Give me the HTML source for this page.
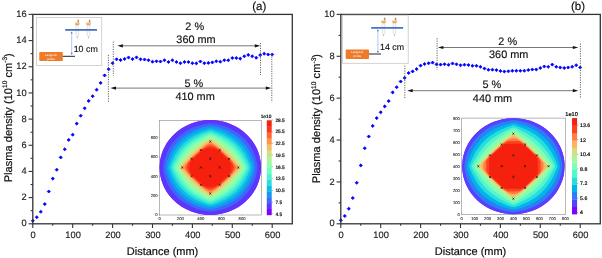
<!DOCTYPE html><html><head><meta charset="utf-8"><style>html,body{margin:0;padding:0;background:#fff;}svg{display:block;will-change:transform;text-rendering:geometricPrecision;filter:blur(0.3px);}</style></head><body>
<svg width="602" height="258" viewBox="0 0 602 258" font-family='"Liberation Sans", sans-serif'>
<rect width="602" height="258" fill="#fff"/>
<rect x="159.5" y="120.4" width="101.90" height="94.60" fill="#fff" stroke="#888" stroke-width="0.6"/>
<ellipse cx="210.3" cy="167.5" rx="50.7" ry="47.4" fill="#8000ff"/>
<path d="M208.95 120.12L218.28 120.70L222.43 121.48L227.81 123.03L236.11 126.71L239.63 128.84L243.57 131.75L248.54 136.40L251.65 140.08L253.93 143.37L256.42 147.83L257.87 151.13L259.53 156.16L260.56 161.40L260.98 166.24L260.36 174.96L259.53 178.84L257.87 183.87L253.93 191.63L251.65 194.92L248.54 198.60L243.57 203.25L239.63 206.16L236.11 208.29L231.34 210.62L227.81 211.97L222.43 213.52L216.83 214.49L211.65 214.88L202.32 214.30L198.17 213.52L192.79 211.97L184.49 208.29L180.97 206.16L177.03 203.25L172.06 198.60L168.95 194.92L166.67 191.63L164.18 187.17L162.73 183.87L161.07 178.84L160.04 173.60L159.62 168.76L160.24 160.04L161.07 156.16L162.73 151.13L166.67 143.37L168.95 140.08L172.06 136.40L177.03 131.75L180.97 128.84L184.49 126.71L189.26 124.38L192.79 123.03L198.17 121.48L203.77 120.51L208.95 120.12Z" fill="#5e35fe" fill-rule="evenodd"/>
<path d="M207.92 123.61L211.44 123.49L216.00 124.10L221.18 125.27L225.95 126.81L230.30 128.66L234.45 130.89L238.18 133.35L241.70 136.17L244.94 139.31L247.77 142.60L250.36 146.28L252.57 150.16L254.39 154.23L255.83 158.49L256.93 163.14L257.43 167.02L257.19 170.31L256.25 174.96L254.90 179.42L253.23 183.49L251.19 187.36L248.79 191.04L243.15 197.50L239.84 200.39L236.31 202.94L232.37 205.29L228.44 207.19L224.29 208.78L219.73 210.11L214.96 211.07L210.82 211.53L207.29 211.32L202.11 210.40L197.55 209.18L193.20 207.62L185.32 203.61L181.59 201.03L178.21 198.21L175.12 195.11L172.39 191.82L169.87 188.14L167.84 184.46L166.13 180.58L164.71 176.32L163.67 171.86L163.17 167.98L163.38 164.88L164.30 160.23L165.56 155.97L167.19 151.90L171.40 144.54L176.79 138.14L183.46 132.62L190.92 128.37L199.00 125.39L207.92 123.61Z" fill="#3c68f9" fill-rule="evenodd"/>
<path d="M210.20 125.93L213.10 126.23L218.07 127.36L226.57 130.36L233.83 134.30L240.25 139.32L245.67 145.31L249.94 152.09L253.14 159.85L254.40 164.50L254.81 167.40L254.49 170.12L253.26 174.77L250.04 182.71L245.82 189.49L240.44 195.50L234.03 200.56L226.78 204.55L218.49 207.52L213.51 208.69L210.40 209.07L207.50 208.77L202.53 207.64L194.03 204.64L186.77 200.70L180.35 195.68L174.93 189.69L170.66 182.91L167.46 175.15L166.20 170.50L165.79 167.60L166.11 164.88L167.34 160.23L170.56 152.29L174.78 145.51L180.16 139.50L186.57 134.44L193.82 130.45L202.11 127.48L207.09 126.31L210.20 125.93Z" fill="#1996f3" fill-rule="evenodd"/>
<path d="M208.75 128.24L211.03 128.14L213.72 128.65L219.11 130.26L223.88 132.11L231.13 135.95L237.56 140.81L242.74 146.29L247.09 152.75L250.62 160.43L252.13 165.08L252.50 167.40L252.18 169.73L250.83 173.99L247.37 181.74L243.19 188.14L238.23 193.56L232.37 198.24L225.74 202.04L217.66 205.22L212.89 206.55L210.40 206.89L207.92 206.60L203.36 205.35L195.07 202.14L188.43 198.38L182.42 193.62L177.41 188.14L173.30 181.88L169.91 174.38L168.47 169.92L168.10 167.60L168.37 165.47L169.64 161.40L173.02 153.64L176.97 147.44L181.80 141.97L187.40 137.34L193.79 133.49L200.87 130.48L208.75 128.24Z" fill="#08bee9" fill-rule="evenodd"/>
<path d="M209.37 130.18L211.23 130.18L213.72 130.80L223.25 134.52L229.89 138.26L235.73 142.79L240.67 148.01L244.72 153.84L248.48 161.40L249.96 165.27L250.37 167.40L250.08 169.34L248.80 172.83L245.02 180.66L240.99 186.59L236.31 191.67L230.92 196.03L224.70 199.76L216.62 203.22L212.68 204.51L210.40 204.88L208.33 204.62L204.61 203.45L196.28 199.96L190.03 196.28L184.45 191.82L179.76 186.78L175.76 180.97L172.03 173.41L170.61 169.62L170.23 167.60L170.52 165.66L171.72 162.36L175.42 154.61L179.31 148.79L184.03 143.57L189.26 139.26L195.27 135.56L202.32 132.39L209.37 130.18Z" fill="#2adddd" fill-rule="evenodd"/>
<path d="M209.16 132.13L210.82 132.04L212.68 132.47L221.47 136.20L228.02 139.98L233.66 144.34L238.36 149.19L242.34 154.61L246.68 162.59L248.00 165.66L248.35 167.40L248.12 168.95L247.20 171.28L242.83 179.61L239.00 185.04L234.45 189.94L229.29 194.14L223.46 197.76L215.17 201.59L212.27 202.66L210.40 202.98L208.75 202.77L206.20 201.90L197.35 197.87L191.54 194.31L186.30 190.08L181.80 185.28L177.89 179.81L173.72 171.96L172.60 169.34L172.25 167.60L172.48 166.05L173.30 163.95L177.54 155.78L181.29 150.35L185.69 145.51L190.50 141.44L195.89 137.93L202.53 134.62L209.16 132.13Z" fill="#4df3ce" fill-rule="evenodd"/>
<path d="M209.78 133.87L211.23 133.93L212.89 134.46L221.22 138.53L227.13 142.21L232.20 146.28L236.52 150.74L240.46 155.94L245.26 164.11L246.41 167.40L246.21 168.76L245.46 170.50L240.73 178.64L236.93 183.77L232.62 188.33L227.81 192.29L222.43 195.79L213.93 200.09L210.40 201.16L208.95 200.97L207.09 200.28L198.59 196.03L192.99 192.45L188.19 188.53L183.92 184.07L180.12 179.03L175.34 170.89L174.19 167.60L174.39 166.24L175.14 164.50L179.73 156.57L183.60 151.32L187.78 146.86L192.40 142.99L197.68 139.50L205.53 135.43L209.78 133.87Z" fill="#6efebe" fill-rule="evenodd"/>
<path d="M209.99 135.61L211.23 135.71L212.89 136.32L220.35 140.43L225.95 144.15L230.65 148.03L234.80 152.29L238.59 157.09L243.54 164.69L244.54 167.40L243.65 170.12L239.04 177.29L235.14 182.32L231.07 186.59L226.57 190.38L221.36 193.95L213.31 198.48L210.40 199.40L207.55 198.60L199.87 194.34L194.44 190.70L189.88 186.92L185.80 182.71L181.97 177.87L177.06 170.31L176.06 167.60L176.84 165.08L181.43 157.91L185.32 152.84L189.47 148.47L193.88 144.73L198.93 141.24L207.09 136.63L209.99 135.61Z" fill="#90feab" fill-rule="evenodd"/>
<path d="M209.78 137.35L211.03 137.39L212.27 137.83L217.34 140.86L223.61 145.12L228.80 149.38L232.86 153.45L236.93 158.33L241.82 165.08L242.72 167.40L241.94 169.73L237.76 175.59L233.62 180.70L229.43 185.04L224.91 188.89L219.73 192.59L212.89 196.85L210.40 197.69L207.92 196.97L201.75 193.18L196.22 189.30L191.54 185.38L187.40 181.17L183.46 176.40L178.78 169.92L177.88 167.60L178.66 165.27L182.63 159.69L186.77 154.53L190.97 150.16L195.07 146.60L199.72 143.18L207.29 138.38L209.78 137.35Z" fill="#b2f396" fill-rule="evenodd"/>
<path d="M209.57 139.07L211.23 139.13L213.51 140.33L221.24 145.89L226.78 150.49L231.34 154.95L236.11 160.35L240.06 165.27L240.95 167.40L240.43 169.15L238.18 172.14L232.58 178.71L227.81 183.56L223.05 187.68L217.30 192.01L212.48 195.31L210.40 196.02L208.47 195.50L204.93 193.18L198.37 188.33L193.12 183.87L188.64 179.38L183.67 173.65L180.41 169.53L179.65 167.60L180.06 166.05L181.80 163.63L187.40 156.98L192.30 151.90L200.90 144.73L207.29 140.20L209.57 139.07Z" fill="#d4dd80" fill-rule="evenodd"/>
<path d="M209.78 140.66L211.44 140.84L213.51 142.08L219.52 146.71L224.86 151.32L230.51 156.72L235.43 161.98L238.52 165.66L239.22 167.40L238.77 168.95L237.13 171.08L231.86 176.90L226.57 182.11L221.11 186.97L215.59 191.39L212.27 193.74L210.40 194.39L208.75 193.97L206.26 192.32L200.25 187.61L194.86 182.88L189.30 177.48L184.31 172.05L181.95 169.15L181.38 167.60L181.73 166.24L183.30 164.11L193.41 153.48L203.15 145.06L207.71 141.65L209.78 140.66Z" fill="#f6be68" fill-rule="evenodd"/>
<path d="M210.20 142.20L211.85 142.62L214.76 144.50L219.52 148.21L223.89 152.09L233.31 161.40L236.70 165.47L237.53 167.40L236.95 169.15L234.83 171.86L230.79 176.32L225.95 180.99L216.21 189.43L212.48 192.04L210.40 192.80L208.75 192.38L205.84 190.50L201.08 186.79L196.71 182.91L187.29 173.60L183.90 169.53L183.07 167.60L183.65 165.85L185.77 163.14L189.81 158.68L194.65 154.01L204.39 145.57L208.12 142.96L210.20 142.20Z" fill="#ff964f" fill-rule="evenodd"/>
<path d="M209.57 143.94L211.23 143.99L213.51 145.02L217.24 147.52L220.77 150.42L231.38 160.62L234.70 164.88L235.75 167.40L235.17 169.34L232.85 172.64L229.95 175.93L225.53 180.18L220.15 185.14L216.62 187.93L212.89 190.32L210.40 191.13L208.54 190.72L205.64 189.08L201.91 186.35L198.42 183.29L188.88 173.99L185.77 169.92L184.85 167.60L185.23 166.05L186.71 163.72L192.41 157.33L202.53 148.15L206.67 145.27L209.57 143.94Z" fill="#ff6835" fill-rule="evenodd"/>
<path d="M209.37 145.89L211.85 145.98L214.13 146.75L217.04 148.45L220.15 150.91L227.86 158.10L230.57 161.01L232.88 164.50L233.63 167.40L233.22 169.73L231.74 172.44L229.39 175.35L225.41 179.22L219.73 184.45L216.62 186.83L213.31 188.60L210.40 189.17L207.92 188.81L205.43 187.72L202.32 185.65L199.15 182.91L192.54 176.70L189.87 173.80L187.62 170.31L186.97 167.60L187.25 165.66L188.24 163.53L190.19 160.81L192.74 158.10L202.94 148.89L206.47 146.75L209.37 145.89Z" fill="#ff351b" fill-rule="evenodd"/>
<path d="M208.12 148.21L213.93 148.39L216.00 149.12L218.07 150.41L228.45 160.04L230.24 162.56L231.03 165.08L230.90 170.70L230.14 172.64L228.85 174.49L218.49 184.28L215.79 185.98L213.10 186.74L206.88 186.65L204.81 185.98L202.73 184.75L192.15 174.96L190.36 172.44L189.57 169.92L189.70 164.30L190.46 162.36L191.96 160.26L202.34 150.54L205.22 148.84L208.12 148.21Z" fill="#f6200f" fill-rule="evenodd"/>
<path d="M209.35 140.55L211.25 142.45M211.25 140.55L209.35 142.45" stroke="#111" stroke-width="0.75"/>
<path d="M200.02 149.22L201.92 151.12M201.92 149.22L200.02 151.12" stroke="#111" stroke-width="0.75"/>
<path d="M190.68 157.88L192.58 159.78M192.58 157.88L190.68 159.78" stroke="#111" stroke-width="0.75"/>
<path d="M181.35 166.55L183.25 168.45M183.25 166.55L181.35 168.45" stroke="#111" stroke-width="0.75"/>
<path d="M218.68 149.22L220.58 151.12M220.58 149.22L218.68 151.12" stroke="#111" stroke-width="0.75"/>
<path d="M209.35 157.88L211.25 159.78M211.25 157.88L209.35 159.78" stroke="#111" stroke-width="0.75"/>
<path d="M200.02 166.55L201.92 168.45M201.92 166.55L200.02 168.45" stroke="#111" stroke-width="0.75"/>
<path d="M190.68 175.22L192.58 177.12M192.58 175.22L190.68 177.12" stroke="#111" stroke-width="0.75"/>
<path d="M228.02 157.88L229.92 159.78M229.92 157.88L228.02 159.78" stroke="#111" stroke-width="0.75"/>
<path d="M218.68 166.55L220.58 168.45M220.58 166.55L218.68 168.45" stroke="#111" stroke-width="0.75"/>
<path d="M209.35 175.22L211.25 177.12M211.25 175.22L209.35 177.12" stroke="#111" stroke-width="0.75"/>
<path d="M200.02 183.88L201.92 185.78M201.92 183.88L200.02 185.78" stroke="#111" stroke-width="0.75"/>
<path d="M237.35 166.55L239.25 168.45M239.25 166.55L237.35 168.45" stroke="#111" stroke-width="0.75"/>
<path d="M228.02 175.22L229.92 177.12M229.92 175.22L228.02 177.12" stroke="#111" stroke-width="0.75"/>
<path d="M218.68 183.88L220.58 185.78M220.58 183.88L218.68 185.78" stroke="#111" stroke-width="0.75"/>
<path d="M209.35 192.55L211.25 194.45M211.25 192.55L209.35 194.45" stroke="#111" stroke-width="0.75"/>
<rect x="266.8" y="208.99" width="4.9" height="6.21" fill="#8000ff"/>
<rect x="266.8" y="203.08" width="4.9" height="6.21" fill="#5e35fe"/>
<rect x="266.8" y="197.16" width="4.9" height="6.21" fill="#3c68f9"/>
<rect x="266.8" y="191.25" width="4.9" height="6.21" fill="#1996f3"/>
<rect x="266.8" y="185.34" width="4.9" height="6.21" fill="#08bee9"/>
<rect x="266.8" y="179.43" width="4.9" height="6.21" fill="#2adddd"/>
<rect x="266.8" y="173.51" width="4.9" height="6.21" fill="#4df3ce"/>
<rect x="266.8" y="167.60" width="4.9" height="6.21" fill="#6efebe"/>
<rect x="266.8" y="161.69" width="4.9" height="6.21" fill="#90feab"/>
<rect x="266.8" y="155.78" width="4.9" height="6.21" fill="#b2f396"/>
<rect x="266.8" y="149.86" width="4.9" height="6.21" fill="#d4dd80"/>
<rect x="266.8" y="143.95" width="4.9" height="6.21" fill="#f6be68"/>
<rect x="266.8" y="138.04" width="4.9" height="6.21" fill="#ff964f"/>
<rect x="266.8" y="132.12" width="4.9" height="6.21" fill="#ff6835"/>
<rect x="266.8" y="126.21" width="4.9" height="6.21" fill="#ff351b"/>
<rect x="266.8" y="120.30" width="4.9" height="6.21" fill="#f6200f"/>
<line x1="271.7" y1="120.0" x2="272.9" y2="120.0" stroke="#333" stroke-width="0.4"/>
<text x="275.40" y="121.73" font-size="4.8" text-anchor="start" fill="#000" stroke="#000" stroke-width="0.18">28.5</text>
<line x1="271.7" y1="131.7" x2="272.9" y2="131.7" stroke="#333" stroke-width="0.4"/>
<text x="275.40" y="133.43" font-size="4.8" text-anchor="start" fill="#000" stroke="#000" stroke-width="0.18">25.5</text>
<line x1="271.7" y1="143.4" x2="272.9" y2="143.4" stroke="#333" stroke-width="0.4"/>
<text x="275.40" y="145.13" font-size="4.8" text-anchor="start" fill="#000" stroke="#000" stroke-width="0.18">22.5</text>
<line x1="271.7" y1="155.1" x2="272.9" y2="155.1" stroke="#333" stroke-width="0.4"/>
<text x="275.40" y="156.83" font-size="4.8" text-anchor="start" fill="#000" stroke="#000" stroke-width="0.18">19.5</text>
<line x1="271.7" y1="166.8" x2="272.9" y2="166.8" stroke="#333" stroke-width="0.4"/>
<text x="275.40" y="168.53" font-size="4.8" text-anchor="start" fill="#000" stroke="#000" stroke-width="0.18">16.5</text>
<line x1="271.7" y1="178.6" x2="272.9" y2="178.6" stroke="#333" stroke-width="0.4"/>
<text x="275.40" y="180.33" font-size="4.8" text-anchor="start" fill="#000" stroke="#000" stroke-width="0.18">13.5</text>
<line x1="271.7" y1="190.4" x2="272.9" y2="190.4" stroke="#333" stroke-width="0.4"/>
<text x="275.40" y="192.13" font-size="4.8" text-anchor="start" fill="#000" stroke="#000" stroke-width="0.18">10.5</text>
<line x1="271.7" y1="202.1" x2="272.9" y2="202.1" stroke="#333" stroke-width="0.4"/>
<text x="275.40" y="203.83" font-size="4.8" text-anchor="start" fill="#000" stroke="#000" stroke-width="0.18">7.5</text>
<line x1="271.7" y1="213.8" x2="272.9" y2="213.8" stroke="#333" stroke-width="0.4"/>
<text x="275.40" y="215.53" font-size="4.8" text-anchor="start" fill="#000" stroke="#000" stroke-width="0.18">4.5</text>
<text x="266.00" y="117.60" font-size="4.8" text-anchor="middle" fill="#000" stroke="#000" stroke-width="0.18">1e10</text>
<line x1="159.6" y1="215.0" x2="159.6" y2="216.0" stroke="#888" stroke-width="0.4"/>
<text x="159.60" y="220.20" font-size="4.2" text-anchor="middle" fill="#333" stroke="#333" stroke-width="0.12">0</text>
<line x1="180.3" y1="215.0" x2="180.3" y2="216.0" stroke="#888" stroke-width="0.4"/>
<text x="180.30" y="220.20" font-size="4.2" text-anchor="middle" fill="#333" stroke="#333" stroke-width="0.12">200</text>
<line x1="200.8" y1="215.0" x2="200.8" y2="216.0" stroke="#888" stroke-width="0.4"/>
<text x="200.80" y="220.20" font-size="4.2" text-anchor="middle" fill="#333" stroke="#333" stroke-width="0.12">400</text>
<line x1="221.4" y1="215.0" x2="221.4" y2="216.0" stroke="#888" stroke-width="0.4"/>
<text x="221.40" y="220.20" font-size="4.2" text-anchor="middle" fill="#333" stroke="#333" stroke-width="0.12">600</text>
<line x1="242.1" y1="215.0" x2="242.1" y2="216.0" stroke="#888" stroke-width="0.4"/>
<text x="242.10" y="220.20" font-size="4.2" text-anchor="middle" fill="#333" stroke="#333" stroke-width="0.12">800</text>
<line x1="158.5" y1="214.7" x2="159.5" y2="214.7" stroke="#888" stroke-width="0.4"/>
<text x="157.70" y="216.21" font-size="4.2" text-anchor="end" fill="#333" stroke="#333" stroke-width="0.12">0</text>
<line x1="158.5" y1="195.3" x2="159.5" y2="195.3" stroke="#888" stroke-width="0.4"/>
<text x="157.70" y="196.81" font-size="4.2" text-anchor="end" fill="#333" stroke="#333" stroke-width="0.12">200</text>
<line x1="158.5" y1="176.0" x2="159.5" y2="176.0" stroke="#888" stroke-width="0.4"/>
<text x="157.70" y="177.51" font-size="4.2" text-anchor="end" fill="#333" stroke="#333" stroke-width="0.12">400</text>
<line x1="158.5" y1="156.9" x2="159.5" y2="156.9" stroke="#888" stroke-width="0.4"/>
<text x="157.70" y="158.41" font-size="4.2" text-anchor="end" fill="#333" stroke="#333" stroke-width="0.12">600</text>
<line x1="158.5" y1="137.4" x2="159.5" y2="137.4" stroke="#888" stroke-width="0.4"/>
<text x="157.70" y="138.91" font-size="4.2" text-anchor="end" fill="#333" stroke="#333" stroke-width="0.12">800</text>
<line x1="28.60" y1="223.80" x2="32.8" y2="223.80" stroke="#333333" stroke-width="1.1"/>
<text x="26.70" y="226.40" font-size="9.3" text-anchor="end" fill="#222222" stroke="#222" stroke-width="0.15">0</text>
<line x1="30.60" y1="210.71" x2="32.8" y2="210.71" stroke="#333333" stroke-width="1.1"/>
<line x1="28.60" y1="197.62" x2="32.8" y2="197.62" stroke="#333333" stroke-width="1.1"/>
<text x="26.70" y="200.22" font-size="9.3" text-anchor="end" fill="#222222" stroke="#222" stroke-width="0.15">2</text>
<line x1="30.60" y1="184.54" x2="32.8" y2="184.54" stroke="#333333" stroke-width="1.1"/>
<line x1="28.60" y1="171.45" x2="32.8" y2="171.45" stroke="#333333" stroke-width="1.1"/>
<text x="26.70" y="174.05" font-size="9.3" text-anchor="end" fill="#222222" stroke="#222" stroke-width="0.15">4</text>
<line x1="30.60" y1="158.36" x2="32.8" y2="158.36" stroke="#333333" stroke-width="1.1"/>
<line x1="28.60" y1="145.28" x2="32.8" y2="145.28" stroke="#333333" stroke-width="1.1"/>
<text x="26.70" y="147.88" font-size="9.3" text-anchor="end" fill="#222222" stroke="#222" stroke-width="0.15">6</text>
<line x1="30.60" y1="132.19" x2="32.8" y2="132.19" stroke="#333333" stroke-width="1.1"/>
<line x1="28.60" y1="119.10" x2="32.8" y2="119.10" stroke="#333333" stroke-width="1.1"/>
<text x="26.70" y="121.70" font-size="9.3" text-anchor="end" fill="#222222" stroke="#222" stroke-width="0.15">8</text>
<line x1="30.60" y1="106.01" x2="32.8" y2="106.01" stroke="#333333" stroke-width="1.1"/>
<line x1="28.60" y1="92.93" x2="32.8" y2="92.93" stroke="#333333" stroke-width="1.1"/>
<text x="26.70" y="95.53" font-size="9.3" text-anchor="end" fill="#222222" stroke="#222" stroke-width="0.15">10</text>
<line x1="30.60" y1="79.84" x2="32.8" y2="79.84" stroke="#333333" stroke-width="1.1"/>
<line x1="28.60" y1="66.75" x2="32.8" y2="66.75" stroke="#333333" stroke-width="1.1"/>
<text x="26.70" y="69.35" font-size="9.3" text-anchor="end" fill="#222222" stroke="#222" stroke-width="0.15">12</text>
<line x1="30.60" y1="53.66" x2="32.8" y2="53.66" stroke="#333333" stroke-width="1.1"/>
<line x1="28.60" y1="40.58" x2="32.8" y2="40.58" stroke="#333333" stroke-width="1.1"/>
<text x="26.70" y="43.18" font-size="9.3" text-anchor="end" fill="#222222" stroke="#222" stroke-width="0.15">14</text>
<line x1="30.60" y1="27.49" x2="32.8" y2="27.49" stroke="#333333" stroke-width="1.1"/>
<line x1="28.60" y1="14.40" x2="32.8" y2="14.40" stroke="#333333" stroke-width="1.1"/>
<text x="26.70" y="17.00" font-size="9.3" text-anchor="end" fill="#222222" stroke="#222" stroke-width="0.15">16</text>
<line x1="32.80" y1="223.8" x2="32.80" y2="228.00" stroke="#333333" stroke-width="1.1"/>
<text x="33.20" y="238.00" font-size="9.3" text-anchor="middle" fill="#222222" stroke="#222" stroke-width="0.15">0</text>
<line x1="52.75" y1="223.8" x2="52.75" y2="225.80" stroke="#333333" stroke-width="1.1"/>
<line x1="72.70" y1="223.8" x2="72.70" y2="228.00" stroke="#333333" stroke-width="1.1"/>
<text x="73.10" y="238.00" font-size="9.3" text-anchor="middle" fill="#222222" stroke="#222" stroke-width="0.15">100</text>
<line x1="92.65" y1="223.8" x2="92.65" y2="225.80" stroke="#333333" stroke-width="1.1"/>
<line x1="112.60" y1="223.8" x2="112.60" y2="228.00" stroke="#333333" stroke-width="1.1"/>
<text x="113.00" y="238.00" font-size="9.3" text-anchor="middle" fill="#222222" stroke="#222" stroke-width="0.15">200</text>
<line x1="132.55" y1="223.8" x2="132.55" y2="225.80" stroke="#333333" stroke-width="1.1"/>
<line x1="152.50" y1="223.8" x2="152.50" y2="228.00" stroke="#333333" stroke-width="1.1"/>
<text x="152.90" y="238.00" font-size="9.3" text-anchor="middle" fill="#222222" stroke="#222" stroke-width="0.15">300</text>
<line x1="172.45" y1="223.8" x2="172.45" y2="225.80" stroke="#333333" stroke-width="1.1"/>
<line x1="192.40" y1="223.8" x2="192.40" y2="228.00" stroke="#333333" stroke-width="1.1"/>
<text x="192.80" y="238.00" font-size="9.3" text-anchor="middle" fill="#222222" stroke="#222" stroke-width="0.15">400</text>
<line x1="212.35" y1="223.8" x2="212.35" y2="225.80" stroke="#333333" stroke-width="1.1"/>
<line x1="232.30" y1="223.8" x2="232.30" y2="228.00" stroke="#333333" stroke-width="1.1"/>
<text x="232.70" y="238.00" font-size="9.3" text-anchor="middle" fill="#222222" stroke="#222" stroke-width="0.15">500</text>
<line x1="252.25" y1="223.8" x2="252.25" y2="225.80" stroke="#333333" stroke-width="1.1"/>
<line x1="272.20" y1="223.8" x2="272.20" y2="228.00" stroke="#333333" stroke-width="1.1"/>
<text x="272.60" y="238.00" font-size="9.3" text-anchor="middle" fill="#222222" stroke="#222" stroke-width="0.15">600</text>
<text x="162.55" y="255.00" font-size="11" text-anchor="middle" fill="#111" stroke="#111" stroke-width="0.2">Distance (mm)</text>
<path d="M32.80 219.15L34.35 220.70L32.80 222.25L31.25 220.70Z" fill="#0000ff" stroke="#0000ff" stroke-width="0.8" stroke-linejoin="round"/>
<path d="M36.79 215.65L38.34 217.20L36.79 218.75L35.24 217.20Z" fill="#0000ff" stroke="#0000ff" stroke-width="0.8" stroke-linejoin="round"/>
<path d="M40.78 210.25L42.33 211.80L40.78 213.35L39.23 211.80Z" fill="#0000ff" stroke="#0000ff" stroke-width="0.8" stroke-linejoin="round"/>
<path d="M44.77 202.55L46.32 204.10L44.77 205.65L43.22 204.10Z" fill="#0000ff" stroke="#0000ff" stroke-width="0.8" stroke-linejoin="round"/>
<path d="M48.76 189.95L50.31 191.50L48.76 193.05L47.21 191.50Z" fill="#0000ff" stroke="#0000ff" stroke-width="0.8" stroke-linejoin="round"/>
<path d="M52.75 177.05L54.30 178.60L52.75 180.15L51.20 178.60Z" fill="#0000ff" stroke="#0000ff" stroke-width="0.8" stroke-linejoin="round"/>
<path d="M56.74 168.15L58.29 169.70L56.74 171.25L55.19 169.70Z" fill="#0000ff" stroke="#0000ff" stroke-width="0.8" stroke-linejoin="round"/>
<path d="M60.73 155.85L62.28 157.40L60.73 158.95L59.18 157.40Z" fill="#0000ff" stroke="#0000ff" stroke-width="0.8" stroke-linejoin="round"/>
<path d="M64.72 147.75L66.27 149.30L64.72 150.85L63.17 149.30Z" fill="#0000ff" stroke="#0000ff" stroke-width="0.8" stroke-linejoin="round"/>
<path d="M68.71 138.35L70.26 139.90L68.71 141.45L67.16 139.90Z" fill="#0000ff" stroke="#0000ff" stroke-width="0.8" stroke-linejoin="round"/>
<path d="M72.70 133.15L74.25 134.70L72.70 136.25L71.15 134.70Z" fill="#0000ff" stroke="#0000ff" stroke-width="0.8" stroke-linejoin="round"/>
<path d="M76.69 122.05L78.24 123.60L76.69 125.15L75.14 123.60Z" fill="#0000ff" stroke="#0000ff" stroke-width="0.8" stroke-linejoin="round"/>
<path d="M80.68 114.15L82.23 115.70L80.68 117.25L79.13 115.70Z" fill="#0000ff" stroke="#0000ff" stroke-width="0.8" stroke-linejoin="round"/>
<path d="M84.67 106.75L86.22 108.30L84.67 109.85L83.12 108.30Z" fill="#0000ff" stroke="#0000ff" stroke-width="0.8" stroke-linejoin="round"/>
<path d="M88.66 99.35L90.21 100.90L88.66 102.45L87.11 100.90Z" fill="#0000ff" stroke="#0000ff" stroke-width="0.8" stroke-linejoin="round"/>
<path d="M92.65 94.65L94.20 96.20L92.65 97.75L91.10 96.20Z" fill="#0000ff" stroke="#0000ff" stroke-width="0.8" stroke-linejoin="round"/>
<path d="M96.64 88.15L98.19 89.70L96.64 91.25L95.09 89.70Z" fill="#0000ff" stroke="#0000ff" stroke-width="0.8" stroke-linejoin="round"/>
<path d="M100.63 81.35L102.18 82.90L100.63 84.45L99.08 82.90Z" fill="#0000ff" stroke="#0000ff" stroke-width="0.8" stroke-linejoin="round"/>
<path d="M104.62 73.85L106.17 75.40L104.62 76.95L103.07 75.40Z" fill="#0000ff" stroke="#0000ff" stroke-width="0.8" stroke-linejoin="round"/>
<path d="M108.61 67.65L110.16 69.20L108.61 70.75L107.06 69.20Z" fill="#0000ff" stroke="#0000ff" stroke-width="0.8" stroke-linejoin="round"/>
<path d="M112.60 61.65L114.15 63.20L112.60 64.75L111.05 63.20Z" fill="#0000ff" stroke="#0000ff" stroke-width="0.8" stroke-linejoin="round"/>
<path d="M116.59 57.75L118.14 59.30L116.59 60.85L115.04 59.30Z" fill="#0000ff" stroke="#0000ff" stroke-width="0.8" stroke-linejoin="round"/>
<path d="M120.58 58.55L122.13 60.10L120.58 61.65L119.03 60.10Z" fill="#0000ff" stroke="#0000ff" stroke-width="0.8" stroke-linejoin="round"/>
<path d="M124.57 57.35L126.12 58.90L124.57 60.45L123.02 58.90Z" fill="#0000ff" stroke="#0000ff" stroke-width="0.8" stroke-linejoin="round"/>
<path d="M128.56 55.95L130.11 57.50L128.56 59.05L127.01 57.50Z" fill="#0000ff" stroke="#0000ff" stroke-width="0.8" stroke-linejoin="round"/>
<path d="M132.55 57.55L134.10 59.10L132.55 60.65L131.00 59.10Z" fill="#0000ff" stroke="#0000ff" stroke-width="0.8" stroke-linejoin="round"/>
<path d="M136.54 55.85L138.09 57.40L136.54 58.95L134.99 57.40Z" fill="#0000ff" stroke="#0000ff" stroke-width="0.8" stroke-linejoin="round"/>
<path d="M140.53 57.75L142.08 59.30L140.53 60.85L138.98 59.30Z" fill="#0000ff" stroke="#0000ff" stroke-width="0.8" stroke-linejoin="round"/>
<path d="M144.52 57.95L146.07 59.50L144.52 61.05L142.97 59.50Z" fill="#0000ff" stroke="#0000ff" stroke-width="0.8" stroke-linejoin="round"/>
<path d="M148.51 58.65L150.06 60.20L148.51 61.75L146.96 60.20Z" fill="#0000ff" stroke="#0000ff" stroke-width="0.8" stroke-linejoin="round"/>
<path d="M152.50 60.15L154.05 61.70L152.50 63.25L150.95 61.70Z" fill="#0000ff" stroke="#0000ff" stroke-width="0.8" stroke-linejoin="round"/>
<path d="M156.49 59.75L158.04 61.30L156.49 62.85L154.94 61.30Z" fill="#0000ff" stroke="#0000ff" stroke-width="0.8" stroke-linejoin="round"/>
<path d="M160.48 59.95L162.03 61.50L160.48 63.05L158.93 61.50Z" fill="#0000ff" stroke="#0000ff" stroke-width="0.8" stroke-linejoin="round"/>
<path d="M164.47 58.65L166.02 60.20L164.47 61.75L162.92 60.20Z" fill="#0000ff" stroke="#0000ff" stroke-width="0.8" stroke-linejoin="round"/>
<path d="M168.46 60.45L170.01 62.00L168.46 63.55L166.91 62.00Z" fill="#0000ff" stroke="#0000ff" stroke-width="0.8" stroke-linejoin="round"/>
<path d="M172.45 58.75L174.00 60.30L172.45 61.85L170.90 60.30Z" fill="#0000ff" stroke="#0000ff" stroke-width="0.8" stroke-linejoin="round"/>
<path d="M176.44 60.45L177.99 62.00L176.44 63.55L174.89 62.00Z" fill="#0000ff" stroke="#0000ff" stroke-width="0.8" stroke-linejoin="round"/>
<path d="M180.43 61.65L181.98 63.20L180.43 64.75L178.88 63.20Z" fill="#0000ff" stroke="#0000ff" stroke-width="0.8" stroke-linejoin="round"/>
<path d="M184.42 60.45L185.97 62.00L184.42 63.55L182.87 62.00Z" fill="#0000ff" stroke="#0000ff" stroke-width="0.8" stroke-linejoin="round"/>
<path d="M188.41 60.45L189.96 62.00L188.41 63.55L186.86 62.00Z" fill="#0000ff" stroke="#0000ff" stroke-width="0.8" stroke-linejoin="round"/>
<path d="M192.40 61.65L193.95 63.20L192.40 64.75L190.85 63.20Z" fill="#0000ff" stroke="#0000ff" stroke-width="0.8" stroke-linejoin="round"/>
<path d="M196.39 61.85L197.94 63.40L196.39 64.95L194.84 63.40Z" fill="#0000ff" stroke="#0000ff" stroke-width="0.8" stroke-linejoin="round"/>
<path d="M200.38 59.95L201.93 61.50L200.38 63.05L198.83 61.50Z" fill="#0000ff" stroke="#0000ff" stroke-width="0.8" stroke-linejoin="round"/>
<path d="M204.37 61.65L205.92 63.20L204.37 64.75L202.82 63.20Z" fill="#0000ff" stroke="#0000ff" stroke-width="0.8" stroke-linejoin="round"/>
<path d="M208.36 61.35L209.91 62.90L208.36 64.45L206.81 62.90Z" fill="#0000ff" stroke="#0000ff" stroke-width="0.8" stroke-linejoin="round"/>
<path d="M212.35 60.85L213.90 62.40L212.35 63.95L210.80 62.40Z" fill="#0000ff" stroke="#0000ff" stroke-width="0.8" stroke-linejoin="round"/>
<path d="M216.34 59.75L217.89 61.30L216.34 62.85L214.79 61.30Z" fill="#0000ff" stroke="#0000ff" stroke-width="0.8" stroke-linejoin="round"/>
<path d="M220.33 60.15L221.88 61.70L220.33 63.25L218.78 61.70Z" fill="#0000ff" stroke="#0000ff" stroke-width="0.8" stroke-linejoin="round"/>
<path d="M224.32 58.65L225.87 60.20L224.32 61.75L222.77 60.20Z" fill="#0000ff" stroke="#0000ff" stroke-width="0.8" stroke-linejoin="round"/>
<path d="M228.31 58.75L229.86 60.30L228.31 61.85L226.76 60.30Z" fill="#0000ff" stroke="#0000ff" stroke-width="0.8" stroke-linejoin="round"/>
<path d="M232.30 56.45L233.85 58.00L232.30 59.55L230.75 58.00Z" fill="#0000ff" stroke="#0000ff" stroke-width="0.8" stroke-linejoin="round"/>
<path d="M236.29 56.45L237.84 58.00L236.29 59.55L234.74 58.00Z" fill="#0000ff" stroke="#0000ff" stroke-width="0.8" stroke-linejoin="round"/>
<path d="M240.28 57.05L241.83 58.60L240.28 60.15L238.73 58.60Z" fill="#0000ff" stroke="#0000ff" stroke-width="0.8" stroke-linejoin="round"/>
<path d="M244.27 54.75L245.82 56.30L244.27 57.85L242.72 56.30Z" fill="#0000ff" stroke="#0000ff" stroke-width="0.8" stroke-linejoin="round"/>
<path d="M248.26 53.35L249.81 54.90L248.26 56.45L246.71 54.90Z" fill="#0000ff" stroke="#0000ff" stroke-width="0.8" stroke-linejoin="round"/>
<path d="M252.25 54.75L253.80 56.30L252.25 57.85L250.70 56.30Z" fill="#0000ff" stroke="#0000ff" stroke-width="0.8" stroke-linejoin="round"/>
<path d="M256.24 56.15L257.79 57.70L256.24 59.25L254.69 57.70Z" fill="#0000ff" stroke="#0000ff" stroke-width="0.8" stroke-linejoin="round"/>
<path d="M260.23 53.55L261.78 55.10L260.23 56.65L258.68 55.10Z" fill="#0000ff" stroke="#0000ff" stroke-width="0.8" stroke-linejoin="round"/>
<path d="M264.22 52.15L265.77 53.70L264.22 55.25L262.67 53.70Z" fill="#0000ff" stroke="#0000ff" stroke-width="0.8" stroke-linejoin="round"/>
<path d="M268.21 52.95L269.76 54.50L268.21 56.05L266.66 54.50Z" fill="#0000ff" stroke="#0000ff" stroke-width="0.8" stroke-linejoin="round"/>
<path d="M272.20 52.95L273.75 54.50L272.20 56.05L270.65 54.50Z" fill="#0000ff" stroke="#0000ff" stroke-width="0.8" stroke-linejoin="round"/>
<rect x="32.8" y="14.4" width="259.50" height="209.40" fill="none" stroke="#333333" stroke-width="1.3"/>
<line x1="108.4" y1="54.9" x2="108.4" y2="102.0" stroke="#555" stroke-width="0.9" stroke-dasharray="1.2 1.2"/>
<line x1="113.3" y1="41.6" x2="113.3" y2="75.8" stroke="#555" stroke-width="0.9" stroke-dasharray="1.2 1.2"/>
<line x1="260.5" y1="43.0" x2="260.5" y2="75.0" stroke="#555" stroke-width="0.9" stroke-dasharray="1.2 1.2"/>
<line x1="271.8" y1="54.0" x2="271.8" y2="102.3" stroke="#555" stroke-width="0.9" stroke-dasharray="1.2 1.2"/>
<line x1="120.40" y1="45.8" x2="257.30" y2="45.8" stroke="#777" stroke-width="1.0"/>
<path d="M117.4 45.8L122.90 44.20L122.90 47.40Z" fill="#111"/>
<path d="M260.3 45.8L254.80 44.20L254.80 47.40Z" fill="#111"/>
<line x1="113.50" y1="88.1" x2="268.30" y2="88.1" stroke="#777" stroke-width="1.0"/>
<path d="M110.5 88.1L116.00 86.50L116.00 89.70Z" fill="#111"/>
<path d="M271.3 88.1L265.80 86.50L265.80 89.70Z" fill="#111"/>
<text x="194.70" y="30.10" font-size="10.9" text-anchor="middle" fill="#111" stroke="#111" stroke-width="0.15">2 %</text>
<text x="196.00" y="43.30" font-size="10.9" text-anchor="middle" fill="#111" stroke="#111" stroke-width="0.15">360 mm</text>
<text x="193.90" y="86.80" font-size="10.9" text-anchor="middle" fill="#111" stroke="#111" stroke-width="0.15">5 %</text>
<text x="195.10" y="100.10" font-size="10.9" text-anchor="middle" fill="#111" stroke="#111" stroke-width="0.15">410 mm</text>
<text x="259.30" y="9.90" font-size="11.5" text-anchor="middle" fill="#111" stroke="#111" stroke-width="0.15">(a)</text>
<rect x="36.6" y="17.4" width="65.10" height="48.00" fill="#fff" stroke="#c8c8c8" stroke-width="0.8"/>
<path d="M75.80 24.90L78.60 24.90L78.40 35.90L77.60 36.70L76.80 36.70L76.00 35.90Z" fill="#fafafa" stroke="#c4c4c4" stroke-width="0.45"/>
<rect x="76.80" y="36.70" width="0.8" height="1.6" fill="#aaa"/>
<path d="M74.70 22.50L79.70 22.50L79.40 24.30Q77.20 25.30 75.00 24.30Z" fill="#edc55a"/>
<path d="M75.20 24.30Q77.20 25.50 79.20 24.30" fill="none" stroke="#ee7070" stroke-width="0.7"/>
<rect x="77.50" y="19.70" width="1.5" height="2.8" fill="#b89080"/>
<path d="M87.10 24.90L89.90 24.90L89.70 35.90L88.90 36.70L88.10 36.70L87.30 35.90Z" fill="#fafafa" stroke="#c4c4c4" stroke-width="0.45"/>
<rect x="88.10" y="36.70" width="0.8" height="1.6" fill="#aaa"/>
<path d="M86.00 22.50L91.00 22.50L90.70 24.30Q88.50 25.30 86.30 24.30Z" fill="#edc55a"/>
<path d="M86.50 24.30Q88.50 25.50 90.50 24.30" fill="none" stroke="#ee7070" stroke-width="0.7"/>
<rect x="88.80" y="19.70" width="1.5" height="2.8" fill="#b89080"/>
<line x1="65.2" y1="29.9" x2="97.0" y2="29.9" stroke="#4472c4" stroke-width="1.8"/>
<line x1="71.7" y1="32.0" x2="71.7" y2="54.3" stroke="#8fb0e8" stroke-width="0.7"/>
<path d="M71.7 31.5L70.7 33.5L72.7 33.5Z" fill="#4472c4"/>
<path d="M71.7 54.8L70.7 52.8L72.7 52.8Z" fill="#4472c4"/>
<rect x="39.3" y="51.9" width="23.50" height="9.10" fill="#ee7a2a" rx="0.8"/>
<text x="51.05" y="55.60" font-size="3.0" text-anchor="middle" fill="#fff" >Langmuir</text>
<text x="51.05" y="59.50" font-size="3.0" text-anchor="middle" fill="#fff" >probe</text>
<line x1="62.8" y1="56.3" x2="75.0" y2="56.3" stroke="#222" stroke-width="1"/>
<text x="73.70" y="52.00" font-size="8.85" text-anchor="start" fill="#111" stroke="#111" stroke-width="0.12">10 cm</text>
<rect x="461.7" y="118.1" width="103.80" height="96.20" fill="#fff" stroke="#888" stroke-width="0.6"/>
<ellipse cx="513.4" cy="166.2" rx="51.2" ry="48.0" fill="#8000ff"/>
<path d="M512.04 118.22L521.46 118.81L525.64 119.59L531.09 121.16L539.46 124.89L543.02 127.05L546.99 130.00L552.02 134.70L555.16 138.43L557.46 141.77L559.97 146.28L561.44 149.62L563.11 154.72L564.16 160.02L564.58 164.92L563.95 173.75L563.11 177.68L561.44 182.78L557.46 190.63L555.16 193.97L552.02 197.70L546.99 202.40L543.02 205.35L539.46 207.51L534.65 209.86L531.09 211.24L525.64 212.81L519.99 213.79L514.76 214.18L505.34 213.59L501.16 212.81L495.71 211.24L487.34 207.51L483.78 205.35L479.81 202.40L474.78 197.70L471.64 193.97L469.34 190.63L466.83 186.12L465.36 182.78L463.69 177.68L462.64 172.38L462.22 167.48L462.85 158.65L463.69 154.72L465.36 149.62L469.34 141.77L471.64 138.43L474.78 134.70L479.81 130.00L483.78 127.05L487.34 124.89L492.15 122.54L495.71 121.16L501.16 119.59L506.81 118.61L512.04 118.22Z" fill="#5641fd" fill-rule="evenodd"/>
<path d="M511.83 120.37L514.97 120.37L520.62 121.24L525.64 122.47L530.46 124.11L534.85 126.06L539.04 128.38L542.86 130.98L546.44 133.92L549.72 137.16L552.60 140.59L555.18 144.32L557.39 148.24L559.22 152.37L560.74 156.88L561.85 161.59L562.43 165.91L562.06 169.63L561.01 174.54L559.66 178.86L557.86 183.17L555.78 187.10L553.33 190.83L550.51 194.36L547.41 197.58L544.06 200.49L540.30 203.22L536.32 205.58L532.13 207.60L527.74 209.28L523.13 210.60L518.32 211.58L513.71 212.11L509.74 211.77L504.50 210.80L499.90 209.55L495.29 207.87L491.11 205.91L487.13 203.62L483.36 200.99L479.93 198.09L476.81 194.95L473.90 191.42L471.38 187.69L469.22 183.76L467.43 179.64L466.00 175.32L464.91 170.62L464.37 166.49L464.74 162.77L465.79 157.86L467.14 153.54L468.84 149.42L473.19 141.97L475.95 138.43L478.97 135.22L485.88 129.60L489.69 127.25L493.83 125.17L502.41 122.12L511.83 120.37Z" fill="#2c7ef7" fill-rule="evenodd"/>
<path d="M511.83 122.91L514.13 122.79L518.11 123.63L523.55 125.20L528.58 127.11L536.53 131.27L543.44 136.48L549.19 142.55L553.92 149.62L557.63 157.86L559.29 163.16L559.87 166.10L559.45 168.65L557.84 173.95L554.24 182.19L549.80 189.06L544.29 195.14L537.79 200.31L530.46 204.45L521.97 207.70L513.50 209.65L510.78 209.27L505.13 207.79L496.55 204.55L489.01 200.31L482.53 195.16L477.00 189.06L472.56 182.19L469.10 174.34L467.51 169.24L466.93 166.30L467.30 163.94L468.89 158.65L472.35 150.60L476.67 143.77L481.90 137.84L488.07 132.74L495.08 128.56L503.00 125.29L511.83 122.91Z" fill="#00b5eb" fill-rule="evenodd"/>
<path d="M513.09 125.09L514.97 125.33L519.78 126.96L528.63 130.78L535.48 134.87L541.39 139.61L546.53 145.11L550.93 151.38L554.88 159.04L557.03 164.34L557.44 166.10L557.10 167.87L555.16 172.72L551.05 180.82L546.69 187.10L541.60 192.59L535.80 197.30L529.20 201.32L521.09 204.96L515.60 206.89L513.50 207.32L511.62 207.01L506.39 205.21L498.02 201.54L491.32 197.53L485.41 192.79L480.27 187.29L475.87 181.02L471.92 173.36L469.77 168.06L469.36 166.30L469.70 164.53L471.64 159.68L475.64 151.78L479.95 145.50L485.04 139.96L490.90 135.17L497.39 131.19L505.20 127.64L513.09 125.09Z" fill="#2adddd" fill-rule="evenodd"/>
<path d="M512.67 127.42L513.92 127.38L515.39 127.84L526.28 133.13L532.84 137.26L538.46 141.77L543.24 146.67L547.62 152.39L552.44 160.36L554.63 164.53L555.09 166.10L554.80 167.48L553.27 170.49L548.04 179.39L543.74 185.14L539.04 190.09L533.81 194.45L527.74 198.43L519.30 202.80L515.18 204.64L513.50 205.07L512.04 204.80L508.78 203.39L499.48 198.68L493.41 194.75L487.97 190.28L483.23 185.33L478.97 179.70L474.15 171.66L472.08 167.67L471.71 166.30L472.00 164.92L473.32 162.31L478.66 153.15L482.90 147.46L487.50 142.55L492.57 138.27L498.22 134.46L505.13 130.73L512.67 127.42Z" fill="#54f6cb" fill-rule="evenodd"/>
<path d="M512.88 129.60L513.92 129.60L515.18 130.10L524.34 135.49L530.64 139.81L535.90 144.16L540.38 148.64L544.69 153.80L551.81 163.94L552.79 166.10L551.94 168.26L545.32 177.77L540.92 183.16L536.53 187.66L531.67 191.81L526.17 195.73L515.81 201.96L513.50 202.85L511.20 202.08L501.23 196.13L495.50 192.10L490.51 187.88L486.08 183.39L481.90 178.32L474.99 168.46L474.01 166.30L474.86 164.14L481.48 154.63L485.67 149.48L490.06 144.93L494.63 140.98L499.75 137.26L507.67 132.35L512.88 129.60Z" fill="#80ffb4" fill-rule="evenodd"/>
<path d="M513.09 131.75L514.97 132.28L520.32 136.08L527.61 141.57L533.39 146.49L542.60 156.03L549.62 164.34L550.51 166.10L549.77 167.87L544.06 174.68L538.83 180.54L534.02 185.33L523.79 193.77L515.39 199.85L513.50 200.67L511.62 199.99L504.33 194.75L498.21 190.04L493.20 185.72L483.99 176.13L477.18 168.06L476.29 166.30L477.03 164.53L482.53 157.97L487.76 152.09L492.57 147.26L502.23 139.22L511.20 132.69L513.09 131.75Z" fill="#abf69b" fill-rule="evenodd"/>
<path d="M512.88 133.90L514.13 133.97L516.02 135.15L527.16 144.32L541.47 157.86L547.06 163.94L548.32 166.10L547.68 167.67L543.90 171.99L531.72 183.88L521.67 192.83L515.60 197.56L513.50 198.57L512.04 198.11L509.11 195.98L497.50 186.12L484.76 173.95L479.74 168.46L478.48 166.30L478.85 165.12L480.24 163.35L488.25 154.92L503.04 141.33L510.16 135.61L512.88 133.90Z" fill="#d4dd80" fill-rule="evenodd"/>
<path d="M513.09 135.86L514.76 136.13L517.06 137.38L521.46 140.55L526.06 144.47L540.81 158.45L544.96 163.35L546.19 166.10L545.78 167.67L544.38 169.83L537.95 176.89L521.67 191.68L516.23 195.54L513.50 196.56L511.83 196.19L509.32 194.74L505.34 191.85L500.53 187.74L485.99 173.95L481.84 169.05L480.61 166.30L481.02 164.73L482.42 162.57L488.85 155.51L504.92 140.89L510.36 136.98L513.09 135.86Z" fill="#ffb360" fill-rule="evenodd"/>
<path d="M510.99 138.43L514.76 138.32L516.85 138.72L519.99 140.40L523.34 142.89L538.66 157.08L542.47 161.78L543.24 163.35L543.50 164.73L543.49 167.87L543.01 169.63L541.35 172.19L538.11 175.91L522.71 190.01L517.90 193.21L514.97 194.07L511.62 194.05L509.74 193.60L506.60 191.86L502.83 189.00L488.14 175.32L484.33 170.62L483.56 169.05L483.30 167.67L483.31 164.53L483.79 162.77L485.45 160.21L488.50 156.68L503.25 143.06L507.43 140.02L510.99 138.43Z" fill="#ff7e41" fill-rule="evenodd"/>
<path d="M509.11 140.97L518.11 141.01L519.99 141.55L522.09 142.76L525.23 145.24L537.28 156.49L539.61 159.43L540.60 161.78L540.60 170.62L540.07 172.19L538.78 174.15L536.88 176.31L524.39 187.89L520.83 190.42L518.32 191.36L508.90 191.41L507.23 191.02L505.13 189.91L501.73 187.29L489.52 175.91L487.19 172.97L486.20 170.62L486.20 161.78L486.73 160.21L488.17 158.06L489.92 156.09L502.83 144.16L506.39 141.76L509.11 140.97Z" fill="#ff4121" fill-rule="evenodd"/>
<path d="M505.97 143.71L519.78 143.64L522.30 144.17L525.23 146.32L535.67 156.09L537.51 158.65L537.77 160.41L537.78 171.79L537.25 174.34L535.87 176.11L525.64 185.70L523.52 187.49L521.67 188.49L519.57 188.77L507.43 188.77L504.61 188.28L501.84 186.31L492.99 178.07L490.37 175.52L489.29 173.75L489.03 171.99L489.03 160.41L489.65 157.86L491.13 156.09L502.06 145.89L504.21 144.32L505.97 143.71Z" fill="#f6200f" fill-rule="evenodd"/>
<path d="M512.45 132.75L514.35 134.65M514.35 132.75L512.45 134.65" stroke="#111" stroke-width="0.75"/>
<path d="M500.75 143.58L502.65 145.48M502.65 143.58L500.75 145.48" stroke="#111" stroke-width="0.75"/>
<path d="M489.05 154.42L490.95 156.32M490.95 154.42L489.05 156.32" stroke="#111" stroke-width="0.75"/>
<path d="M477.35 165.25L479.25 167.15M479.25 165.25L477.35 167.15" stroke="#111" stroke-width="0.75"/>
<path d="M524.15 143.58L526.05 145.48M526.05 143.58L524.15 145.48" stroke="#111" stroke-width="0.75"/>
<path d="M512.45 154.42L514.35 156.32M514.35 154.42L512.45 156.32" stroke="#111" stroke-width="0.75"/>
<path d="M500.75 165.25L502.65 167.15M502.65 165.25L500.75 167.15" stroke="#111" stroke-width="0.75"/>
<path d="M489.05 176.08L490.95 177.98M490.95 176.08L489.05 177.98" stroke="#111" stroke-width="0.75"/>
<path d="M535.85 154.42L537.75 156.32M537.75 154.42L535.85 156.32" stroke="#111" stroke-width="0.75"/>
<path d="M524.15 165.25L526.05 167.15M526.05 165.25L524.15 167.15" stroke="#111" stroke-width="0.75"/>
<path d="M512.45 176.08L514.35 177.98M514.35 176.08L512.45 177.98" stroke="#111" stroke-width="0.75"/>
<path d="M500.75 186.92L502.65 188.82M502.65 186.92L500.75 188.82" stroke="#111" stroke-width="0.75"/>
<path d="M547.55 165.25L549.45 167.15M549.45 165.25L547.55 167.15" stroke="#111" stroke-width="0.75"/>
<path d="M535.85 176.08L537.75 177.98M537.75 176.08L535.85 177.98" stroke="#111" stroke-width="0.75"/>
<path d="M524.15 186.92L526.05 188.82M526.05 186.92L524.15 188.82" stroke="#111" stroke-width="0.75"/>
<path d="M512.45 197.75L514.35 199.65M514.35 197.75L512.45 199.65" stroke="#111" stroke-width="0.75"/>
<rect x="572.0" y="206.72" width="5.1" height="7.68" fill="#8000ff"/>
<rect x="572.0" y="199.33" width="5.1" height="7.68" fill="#5641fd"/>
<rect x="572.0" y="191.95" width="5.1" height="7.68" fill="#2c7ef7"/>
<rect x="572.0" y="184.56" width="5.1" height="7.68" fill="#00b5eb"/>
<rect x="572.0" y="177.18" width="5.1" height="7.68" fill="#2adddd"/>
<rect x="572.0" y="169.79" width="5.1" height="7.68" fill="#54f6cb"/>
<rect x="572.0" y="162.41" width="5.1" height="7.68" fill="#80ffb4"/>
<rect x="572.0" y="155.02" width="5.1" height="7.68" fill="#abf69b"/>
<rect x="572.0" y="147.64" width="5.1" height="7.68" fill="#d4dd80"/>
<rect x="572.0" y="140.25" width="5.1" height="7.68" fill="#ffb360"/>
<rect x="572.0" y="132.87" width="5.1" height="7.68" fill="#ff7e41"/>
<rect x="572.0" y="125.48" width="5.1" height="7.68" fill="#ff4121"/>
<rect x="572.0" y="118.10" width="5.1" height="7.68" fill="#f6200f"/>
<line x1="577.1" y1="125.2" x2="578.3000000000001" y2="125.2" stroke="#333" stroke-width="0.4"/>
<text x="580.10" y="127.07" font-size="5.2" text-anchor="start" fill="#000" stroke="#000" stroke-width="0.18">13.6</text>
<line x1="577.1" y1="139.7" x2="578.3000000000001" y2="139.7" stroke="#333" stroke-width="0.4"/>
<text x="580.10" y="141.57" font-size="5.2" text-anchor="start" fill="#000" stroke="#000" stroke-width="0.18">12</text>
<line x1="577.1" y1="154.3" x2="578.3000000000001" y2="154.3" stroke="#333" stroke-width="0.4"/>
<text x="580.10" y="156.17" font-size="5.2" text-anchor="start" fill="#000" stroke="#000" stroke-width="0.18">10.4</text>
<line x1="577.1" y1="168.9" x2="578.3000000000001" y2="168.9" stroke="#333" stroke-width="0.4"/>
<text x="580.10" y="170.77" font-size="5.2" text-anchor="start" fill="#000" stroke="#000" stroke-width="0.18">8.8</text>
<line x1="577.1" y1="183.6" x2="578.3000000000001" y2="183.6" stroke="#333" stroke-width="0.4"/>
<text x="580.10" y="185.47" font-size="5.2" text-anchor="start" fill="#000" stroke="#000" stroke-width="0.18">7.2</text>
<line x1="577.1" y1="198.2" x2="578.3000000000001" y2="198.2" stroke="#333" stroke-width="0.4"/>
<text x="580.10" y="200.07" font-size="5.2" text-anchor="start" fill="#000" stroke="#000" stroke-width="0.18">5.6</text>
<line x1="577.1" y1="212.6" x2="578.3000000000001" y2="212.6" stroke="#333" stroke-width="0.4"/>
<text x="580.10" y="214.47" font-size="5.2" text-anchor="start" fill="#000" stroke="#000" stroke-width="0.18">4</text>
<text x="571.60" y="115.50" font-size="5.6" text-anchor="middle" fill="#000" stroke="#000" stroke-width="0.18">1e10</text>
<line x1="461.7" y1="214.3" x2="461.7" y2="215.3" stroke="#888" stroke-width="0.4"/>
<text x="461.70" y="219.50" font-size="4.2" text-anchor="middle" fill="#333" stroke="#333" stroke-width="0.12">0</text>
<line x1="474.65" y1="214.3" x2="474.65" y2="215.3" stroke="#888" stroke-width="0.4"/>
<text x="474.65" y="219.50" font-size="4.2" text-anchor="middle" fill="#333" stroke="#333" stroke-width="0.12">100</text>
<line x1="487.59999999999997" y1="214.3" x2="487.59999999999997" y2="215.3" stroke="#888" stroke-width="0.4"/>
<text x="487.60" y="219.50" font-size="4.2" text-anchor="middle" fill="#333" stroke="#333" stroke-width="0.12">200</text>
<line x1="500.54999999999995" y1="214.3" x2="500.54999999999995" y2="215.3" stroke="#888" stroke-width="0.4"/>
<text x="500.55" y="219.50" font-size="4.2" text-anchor="middle" fill="#333" stroke="#333" stroke-width="0.12">300</text>
<line x1="513.5" y1="214.3" x2="513.5" y2="215.3" stroke="#888" stroke-width="0.4"/>
<text x="513.50" y="219.50" font-size="4.2" text-anchor="middle" fill="#333" stroke="#333" stroke-width="0.12">400</text>
<line x1="526.45" y1="214.3" x2="526.45" y2="215.3" stroke="#888" stroke-width="0.4"/>
<text x="526.45" y="219.50" font-size="4.2" text-anchor="middle" fill="#333" stroke="#333" stroke-width="0.12">500</text>
<line x1="539.4" y1="214.3" x2="539.4" y2="215.3" stroke="#888" stroke-width="0.4"/>
<text x="539.40" y="219.50" font-size="4.2" text-anchor="middle" fill="#333" stroke="#333" stroke-width="0.12">600</text>
<line x1="552.35" y1="214.3" x2="552.35" y2="215.3" stroke="#888" stroke-width="0.4"/>
<text x="552.35" y="219.50" font-size="4.2" text-anchor="middle" fill="#333" stroke="#333" stroke-width="0.12">700</text>
<line x1="565.3" y1="214.3" x2="565.3" y2="215.3" stroke="#888" stroke-width="0.4"/>
<text x="565.30" y="219.50" font-size="4.2" text-anchor="middle" fill="#333" stroke="#333" stroke-width="0.12">800</text>
<line x1="460.7" y1="214.5" x2="461.7" y2="214.5" stroke="#888" stroke-width="0.4"/>
<text x="459.90" y="216.01" font-size="4.2" text-anchor="end" fill="#333" stroke="#333" stroke-width="0.12">0</text>
<line x1="460.7" y1="202.45" x2="461.7" y2="202.45" stroke="#888" stroke-width="0.4"/>
<text x="459.90" y="203.96" font-size="4.2" text-anchor="end" fill="#333" stroke="#333" stroke-width="0.12">100</text>
<line x1="460.7" y1="190.4" x2="461.7" y2="190.4" stroke="#888" stroke-width="0.4"/>
<text x="459.90" y="191.91" font-size="4.2" text-anchor="end" fill="#333" stroke="#333" stroke-width="0.12">200</text>
<line x1="460.7" y1="178.35" x2="461.7" y2="178.35" stroke="#888" stroke-width="0.4"/>
<text x="459.90" y="179.86" font-size="4.2" text-anchor="end" fill="#333" stroke="#333" stroke-width="0.12">300</text>
<line x1="460.7" y1="166.3" x2="461.7" y2="166.3" stroke="#888" stroke-width="0.4"/>
<text x="459.90" y="167.81" font-size="4.2" text-anchor="end" fill="#333" stroke="#333" stroke-width="0.12">400</text>
<line x1="460.7" y1="154.25" x2="461.7" y2="154.25" stroke="#888" stroke-width="0.4"/>
<text x="459.90" y="155.76" font-size="4.2" text-anchor="end" fill="#333" stroke="#333" stroke-width="0.12">500</text>
<line x1="460.7" y1="142.2" x2="461.7" y2="142.2" stroke="#888" stroke-width="0.4"/>
<text x="459.90" y="143.71" font-size="4.2" text-anchor="end" fill="#333" stroke="#333" stroke-width="0.12">600</text>
<line x1="460.7" y1="130.14999999999998" x2="461.7" y2="130.14999999999998" stroke="#888" stroke-width="0.4"/>
<text x="459.90" y="131.66" font-size="4.2" text-anchor="end" fill="#333" stroke="#333" stroke-width="0.12">700</text>
<line x1="460.7" y1="118.1" x2="461.7" y2="118.1" stroke="#888" stroke-width="0.4"/>
<text x="459.90" y="119.61" font-size="4.2" text-anchor="end" fill="#333" stroke="#333" stroke-width="0.12">800</text>
<line x1="336.60" y1="223.80" x2="340.8" y2="223.80" stroke="#333333" stroke-width="1.1"/>
<text x="334.70" y="226.40" font-size="9.3" text-anchor="end" fill="#222222" stroke="#222" stroke-width="0.15">0</text>
<line x1="338.60" y1="202.86" x2="340.8" y2="202.86" stroke="#333333" stroke-width="1.1"/>
<line x1="336.60" y1="181.92" x2="340.8" y2="181.92" stroke="#333333" stroke-width="1.1"/>
<text x="334.70" y="184.52" font-size="9.3" text-anchor="end" fill="#222222" stroke="#222" stroke-width="0.15">2</text>
<line x1="338.60" y1="160.98" x2="340.8" y2="160.98" stroke="#333333" stroke-width="1.1"/>
<line x1="336.60" y1="140.04" x2="340.8" y2="140.04" stroke="#333333" stroke-width="1.1"/>
<text x="334.70" y="142.64" font-size="9.3" text-anchor="end" fill="#222222" stroke="#222" stroke-width="0.15">4</text>
<line x1="338.60" y1="119.10" x2="340.8" y2="119.10" stroke="#333333" stroke-width="1.1"/>
<line x1="336.60" y1="98.16" x2="340.8" y2="98.16" stroke="#333333" stroke-width="1.1"/>
<text x="334.70" y="100.76" font-size="9.3" text-anchor="end" fill="#222222" stroke="#222" stroke-width="0.15">6</text>
<line x1="338.60" y1="77.22" x2="340.8" y2="77.22" stroke="#333333" stroke-width="1.1"/>
<line x1="336.60" y1="56.28" x2="340.8" y2="56.28" stroke="#333333" stroke-width="1.1"/>
<text x="334.70" y="58.88" font-size="9.3" text-anchor="end" fill="#222222" stroke="#222" stroke-width="0.15">8</text>
<line x1="338.60" y1="35.34" x2="340.8" y2="35.34" stroke="#333333" stroke-width="1.1"/>
<line x1="336.60" y1="14.40" x2="340.8" y2="14.40" stroke="#333333" stroke-width="1.1"/>
<text x="334.70" y="17.00" font-size="9.3" text-anchor="end" fill="#222222" stroke="#222" stroke-width="0.15">10</text>
<line x1="340.80" y1="223.8" x2="340.80" y2="228.00" stroke="#333333" stroke-width="1.1"/>
<text x="341.20" y="238.00" font-size="9.3" text-anchor="middle" fill="#222222" stroke="#222" stroke-width="0.15">0</text>
<line x1="360.75" y1="223.8" x2="360.75" y2="225.80" stroke="#333333" stroke-width="1.1"/>
<line x1="380.70" y1="223.8" x2="380.70" y2="228.00" stroke="#333333" stroke-width="1.1"/>
<text x="381.10" y="238.00" font-size="9.3" text-anchor="middle" fill="#222222" stroke="#222" stroke-width="0.15">100</text>
<line x1="400.65" y1="223.8" x2="400.65" y2="225.80" stroke="#333333" stroke-width="1.1"/>
<line x1="420.60" y1="223.8" x2="420.60" y2="228.00" stroke="#333333" stroke-width="1.1"/>
<text x="421.00" y="238.00" font-size="9.3" text-anchor="middle" fill="#222222" stroke="#222" stroke-width="0.15">200</text>
<line x1="440.55" y1="223.8" x2="440.55" y2="225.80" stroke="#333333" stroke-width="1.1"/>
<line x1="460.50" y1="223.8" x2="460.50" y2="228.00" stroke="#333333" stroke-width="1.1"/>
<text x="460.90" y="238.00" font-size="9.3" text-anchor="middle" fill="#222222" stroke="#222" stroke-width="0.15">300</text>
<line x1="480.45" y1="223.8" x2="480.45" y2="225.80" stroke="#333333" stroke-width="1.1"/>
<line x1="500.40" y1="223.8" x2="500.40" y2="228.00" stroke="#333333" stroke-width="1.1"/>
<text x="500.80" y="238.00" font-size="9.3" text-anchor="middle" fill="#222222" stroke="#222" stroke-width="0.15">400</text>
<line x1="520.35" y1="223.8" x2="520.35" y2="225.80" stroke="#333333" stroke-width="1.1"/>
<line x1="540.30" y1="223.8" x2="540.30" y2="228.00" stroke="#333333" stroke-width="1.1"/>
<text x="540.70" y="238.00" font-size="9.3" text-anchor="middle" fill="#222222" stroke="#222" stroke-width="0.15">500</text>
<line x1="560.25" y1="223.8" x2="560.25" y2="225.80" stroke="#333333" stroke-width="1.1"/>
<line x1="580.20" y1="223.8" x2="580.20" y2="228.00" stroke="#333333" stroke-width="1.1"/>
<text x="580.60" y="238.00" font-size="9.3" text-anchor="middle" fill="#222222" stroke="#222" stroke-width="0.15">600</text>
<text x="470.55" y="255.00" font-size="11" text-anchor="middle" fill="#111" stroke="#111" stroke-width="0.2">Distance (mm)</text>
<path d="M340.80 218.75L342.35 220.30L340.80 221.85L339.25 220.30Z" fill="#0000ff" stroke="#0000ff" stroke-width="0.8" stroke-linejoin="round"/>
<path d="M344.79 214.45L346.34 216.00L344.79 217.55L343.24 216.00Z" fill="#0000ff" stroke="#0000ff" stroke-width="0.8" stroke-linejoin="round"/>
<path d="M348.78 207.15L350.33 208.70L348.78 210.25L347.23 208.70Z" fill="#0000ff" stroke="#0000ff" stroke-width="0.8" stroke-linejoin="round"/>
<path d="M352.77 196.45L354.32 198.00L352.77 199.55L351.22 198.00Z" fill="#0000ff" stroke="#0000ff" stroke-width="0.8" stroke-linejoin="round"/>
<path d="M356.76 181.25L358.31 182.80L356.76 184.35L355.21 182.80Z" fill="#0000ff" stroke="#0000ff" stroke-width="0.8" stroke-linejoin="round"/>
<path d="M360.75 163.85L362.30 165.40L360.75 166.95L359.20 165.40Z" fill="#0000ff" stroke="#0000ff" stroke-width="0.8" stroke-linejoin="round"/>
<path d="M364.74 146.65L366.29 148.20L364.74 149.75L363.19 148.20Z" fill="#0000ff" stroke="#0000ff" stroke-width="0.8" stroke-linejoin="round"/>
<path d="M368.73 134.95L370.28 136.50L368.73 138.05L367.18 136.50Z" fill="#0000ff" stroke="#0000ff" stroke-width="0.8" stroke-linejoin="round"/>
<path d="M372.72 124.35L374.27 125.90L372.72 127.45L371.17 125.90Z" fill="#0000ff" stroke="#0000ff" stroke-width="0.8" stroke-linejoin="round"/>
<path d="M376.71 116.55L378.26 118.10L376.71 119.65L375.16 118.10Z" fill="#0000ff" stroke="#0000ff" stroke-width="0.8" stroke-linejoin="round"/>
<path d="M380.70 110.75L382.25 112.30L380.70 113.85L379.15 112.30Z" fill="#0000ff" stroke="#0000ff" stroke-width="0.8" stroke-linejoin="round"/>
<path d="M384.69 104.85L386.24 106.40L384.69 107.95L383.14 106.40Z" fill="#0000ff" stroke="#0000ff" stroke-width="0.8" stroke-linejoin="round"/>
<path d="M388.68 99.55L390.23 101.10L388.68 102.65L387.13 101.10Z" fill="#0000ff" stroke="#0000ff" stroke-width="0.8" stroke-linejoin="round"/>
<path d="M392.67 90.85L394.22 92.40L392.67 93.95L391.12 92.40Z" fill="#0000ff" stroke="#0000ff" stroke-width="0.8" stroke-linejoin="round"/>
<path d="M396.66 85.65L398.21 87.20L396.66 88.75L395.11 87.20Z" fill="#0000ff" stroke="#0000ff" stroke-width="0.8" stroke-linejoin="round"/>
<path d="M400.65 79.95L402.20 81.50L400.65 83.05L399.10 81.50Z" fill="#0000ff" stroke="#0000ff" stroke-width="0.8" stroke-linejoin="round"/>
<path d="M404.64 76.35L406.19 77.90L404.64 79.45L403.09 77.90Z" fill="#0000ff" stroke="#0000ff" stroke-width="0.8" stroke-linejoin="round"/>
<path d="M408.63 71.45L410.18 73.00L408.63 74.55L407.08 73.00Z" fill="#0000ff" stroke="#0000ff" stroke-width="0.8" stroke-linejoin="round"/>
<path d="M412.62 69.85L414.17 71.40L412.62 72.95L411.07 71.40Z" fill="#0000ff" stroke="#0000ff" stroke-width="0.8" stroke-linejoin="round"/>
<path d="M416.61 67.55L418.16 69.10L416.61 70.65L415.06 69.10Z" fill="#0000ff" stroke="#0000ff" stroke-width="0.8" stroke-linejoin="round"/>
<path d="M420.60 64.05L422.15 65.60L420.60 67.15L419.05 65.60Z" fill="#0000ff" stroke="#0000ff" stroke-width="0.8" stroke-linejoin="round"/>
<path d="M424.59 62.45L426.14 64.00L424.59 65.55L423.04 64.00Z" fill="#0000ff" stroke="#0000ff" stroke-width="0.8" stroke-linejoin="round"/>
<path d="M428.58 61.75L430.13 63.30L428.58 64.85L427.03 63.30Z" fill="#0000ff" stroke="#0000ff" stroke-width="0.8" stroke-linejoin="round"/>
<path d="M432.57 61.05L434.12 62.60L432.57 64.15L431.02 62.60Z" fill="#0000ff" stroke="#0000ff" stroke-width="0.8" stroke-linejoin="round"/>
<path d="M436.56 62.85L438.11 64.40L436.56 65.95L435.01 64.40Z" fill="#0000ff" stroke="#0000ff" stroke-width="0.8" stroke-linejoin="round"/>
<path d="M440.55 63.05L442.10 64.60L440.55 66.15L439.00 64.60Z" fill="#0000ff" stroke="#0000ff" stroke-width="0.8" stroke-linejoin="round"/>
<path d="M444.54 62.65L446.09 64.20L444.54 65.75L442.99 64.20Z" fill="#0000ff" stroke="#0000ff" stroke-width="0.8" stroke-linejoin="round"/>
<path d="M448.53 63.25L450.08 64.80L448.53 66.35L446.98 64.80Z" fill="#0000ff" stroke="#0000ff" stroke-width="0.8" stroke-linejoin="round"/>
<path d="M452.52 61.95L454.07 63.50L452.52 65.05L450.97 63.50Z" fill="#0000ff" stroke="#0000ff" stroke-width="0.8" stroke-linejoin="round"/>
<path d="M456.51 62.75L458.06 64.30L456.51 65.85L454.96 64.30Z" fill="#0000ff" stroke="#0000ff" stroke-width="0.8" stroke-linejoin="round"/>
<path d="M460.50 63.75L462.05 65.30L460.50 66.85L458.95 65.30Z" fill="#0000ff" stroke="#0000ff" stroke-width="0.8" stroke-linejoin="round"/>
<path d="M464.49 63.15L466.04 64.70L464.49 66.25L462.94 64.70Z" fill="#0000ff" stroke="#0000ff" stroke-width="0.8" stroke-linejoin="round"/>
<path d="M468.48 63.45L470.03 65.00L468.48 66.55L466.93 65.00Z" fill="#0000ff" stroke="#0000ff" stroke-width="0.8" stroke-linejoin="round"/>
<path d="M472.47 64.25L474.02 65.80L472.47 67.35L470.92 65.80Z" fill="#0000ff" stroke="#0000ff" stroke-width="0.8" stroke-linejoin="round"/>
<path d="M476.46 64.25L478.01 65.80L476.46 67.35L474.91 65.80Z" fill="#0000ff" stroke="#0000ff" stroke-width="0.8" stroke-linejoin="round"/>
<path d="M480.45 65.25L482.00 66.80L480.45 68.35L478.90 66.80Z" fill="#0000ff" stroke="#0000ff" stroke-width="0.8" stroke-linejoin="round"/>
<path d="M484.44 66.95L485.99 68.50L484.44 70.05L482.89 68.50Z" fill="#0000ff" stroke="#0000ff" stroke-width="0.8" stroke-linejoin="round"/>
<path d="M488.43 68.25L489.98 69.80L488.43 71.35L486.88 69.80Z" fill="#0000ff" stroke="#0000ff" stroke-width="0.8" stroke-linejoin="round"/>
<path d="M492.42 68.15L493.97 69.70L492.42 71.25L490.87 69.70Z" fill="#0000ff" stroke="#0000ff" stroke-width="0.8" stroke-linejoin="round"/>
<path d="M496.41 68.55L497.96 70.10L496.41 71.65L494.86 70.10Z" fill="#0000ff" stroke="#0000ff" stroke-width="0.8" stroke-linejoin="round"/>
<path d="M500.40 69.45L501.95 71.00L500.40 72.55L498.85 71.00Z" fill="#0000ff" stroke="#0000ff" stroke-width="0.8" stroke-linejoin="round"/>
<path d="M504.39 69.95L505.94 71.50L504.39 73.05L502.84 71.50Z" fill="#0000ff" stroke="#0000ff" stroke-width="0.8" stroke-linejoin="round"/>
<path d="M508.38 69.75L509.93 71.30L508.38 72.85L506.83 71.30Z" fill="#0000ff" stroke="#0000ff" stroke-width="0.8" stroke-linejoin="round"/>
<path d="M512.37 69.25L513.92 70.80L512.37 72.35L510.82 70.80Z" fill="#0000ff" stroke="#0000ff" stroke-width="0.8" stroke-linejoin="round"/>
<path d="M516.36 69.25L517.91 70.80L516.36 72.35L514.81 70.80Z" fill="#0000ff" stroke="#0000ff" stroke-width="0.8" stroke-linejoin="round"/>
<path d="M520.35 69.25L521.90 70.80L520.35 72.35L518.80 70.80Z" fill="#0000ff" stroke="#0000ff" stroke-width="0.8" stroke-linejoin="round"/>
<path d="M524.34 69.15L525.89 70.70L524.34 72.25L522.79 70.70Z" fill="#0000ff" stroke="#0000ff" stroke-width="0.8" stroke-linejoin="round"/>
<path d="M528.33 68.45L529.88 70.00L528.33 71.55L526.78 70.00Z" fill="#0000ff" stroke="#0000ff" stroke-width="0.8" stroke-linejoin="round"/>
<path d="M532.32 67.95L533.87 69.50L532.32 71.05L530.77 69.50Z" fill="#0000ff" stroke="#0000ff" stroke-width="0.8" stroke-linejoin="round"/>
<path d="M536.31 67.95L537.86 69.50L536.31 71.05L534.76 69.50Z" fill="#0000ff" stroke="#0000ff" stroke-width="0.8" stroke-linejoin="round"/>
<path d="M540.30 66.45L541.85 68.00L540.30 69.55L538.75 68.00Z" fill="#0000ff" stroke="#0000ff" stroke-width="0.8" stroke-linejoin="round"/>
<path d="M544.29 64.95L545.84 66.50L544.29 68.05L542.74 66.50Z" fill="#0000ff" stroke="#0000ff" stroke-width="0.8" stroke-linejoin="round"/>
<path d="M548.28 65.25L549.83 66.80L548.28 68.35L546.73 66.80Z" fill="#0000ff" stroke="#0000ff" stroke-width="0.8" stroke-linejoin="round"/>
<path d="M552.27 63.05L553.82 64.60L552.27 66.15L550.72 64.60Z" fill="#0000ff" stroke="#0000ff" stroke-width="0.8" stroke-linejoin="round"/>
<path d="M556.26 65.25L557.81 66.80L556.26 68.35L554.71 66.80Z" fill="#0000ff" stroke="#0000ff" stroke-width="0.8" stroke-linejoin="round"/>
<path d="M560.25 65.95L561.80 67.50L560.25 69.05L558.70 67.50Z" fill="#0000ff" stroke="#0000ff" stroke-width="0.8" stroke-linejoin="round"/>
<path d="M564.24 66.45L565.79 68.00L564.24 69.55L562.69 68.00Z" fill="#0000ff" stroke="#0000ff" stroke-width="0.8" stroke-linejoin="round"/>
<path d="M568.23 65.95L569.78 67.50L568.23 69.05L566.68 67.50Z" fill="#0000ff" stroke="#0000ff" stroke-width="0.8" stroke-linejoin="round"/>
<path d="M572.22 65.25L573.77 66.80L572.22 68.35L570.67 66.80Z" fill="#0000ff" stroke="#0000ff" stroke-width="0.8" stroke-linejoin="round"/>
<path d="M576.21 63.65L577.76 65.20L576.21 66.75L574.66 65.20Z" fill="#0000ff" stroke="#0000ff" stroke-width="0.8" stroke-linejoin="round"/>
<path d="M580.20 65.95L581.75 67.50L580.20 69.05L578.65 67.50Z" fill="#0000ff" stroke="#0000ff" stroke-width="0.8" stroke-linejoin="round"/>
<rect x="340.8" y="14.4" width="259.50" height="209.40" fill="none" stroke="#333333" stroke-width="1.3"/>
<line x1="404.8" y1="65.6" x2="404.8" y2="98.0" stroke="#555" stroke-width="0.9" stroke-dasharray="1.2 1.2"/>
<line x1="437.1" y1="38.2" x2="437.1" y2="69.8" stroke="#555" stroke-width="0.9" stroke-dasharray="1.2 1.2"/>
<line x1="580.4" y1="43.5" x2="580.4" y2="97.8" stroke="#555" stroke-width="0.9" stroke-dasharray="1.2 1.2"/>
<line x1="440.90" y1="47.5" x2="575.30" y2="47.5" stroke="#777" stroke-width="1.0"/>
<path d="M437.9 47.5L443.40 45.90L443.40 49.10Z" fill="#111"/>
<path d="M578.3 47.5L572.80 45.90L572.80 49.10Z" fill="#111"/>
<line x1="410.20" y1="90.7" x2="575.30" y2="90.7" stroke="#777" stroke-width="1.0"/>
<path d="M407.2 90.7L412.70 89.10L412.70 92.30Z" fill="#111"/>
<path d="M578.3 90.7L572.80 89.10L572.80 92.30Z" fill="#111"/>
<text x="507.70" y="44.60" font-size="10.9" text-anchor="middle" fill="#111" stroke="#111" stroke-width="0.15">2 %</text>
<text x="508.70" y="57.90" font-size="10.9" text-anchor="middle" fill="#111" stroke="#111" stroke-width="0.15">360 mm</text>
<text x="491.80" y="88.10" font-size="10.9" text-anchor="middle" fill="#111" stroke="#111" stroke-width="0.15">5 %</text>
<text x="492.50" y="101.50" font-size="10.9" text-anchor="middle" fill="#111" stroke="#111" stroke-width="0.15">440 mm</text>
<text x="578.00" y="9.90" font-size="11.5" text-anchor="middle" fill="#111" stroke="#111" stroke-width="0.15">(b)</text>
<rect x="342.5" y="15.2" width="65.70" height="48.10" fill="#fff" stroke="#c8c8c8" stroke-width="0.8"/>
<path d="M382.20 22.80L385.00 22.80L384.80 33.80L384.00 34.60L383.20 34.60L382.40 33.80Z" fill="#fafafa" stroke="#c4c4c4" stroke-width="0.45"/>
<rect x="383.20" y="34.60" width="0.8" height="1.6" fill="#aaa"/>
<path d="M381.10 20.40L386.10 20.40L385.80 22.20Q383.60 23.20 381.40 22.20Z" fill="#edc55a"/>
<path d="M381.60 22.20Q383.60 23.40 385.60 22.20" fill="none" stroke="#ee7070" stroke-width="0.7"/>
<rect x="383.90" y="17.60" width="1.5" height="2.8" fill="#b89080"/>
<path d="M393.10 22.80L395.90 22.80L395.70 33.80L394.90 34.60L394.10 34.60L393.30 33.80Z" fill="#fafafa" stroke="#c4c4c4" stroke-width="0.45"/>
<rect x="394.10" y="34.60" width="0.8" height="1.6" fill="#aaa"/>
<path d="M392.00 20.40L397.00 20.40L396.70 22.20Q394.50 23.20 392.30 22.20Z" fill="#edc55a"/>
<path d="M392.50 22.20Q394.50 23.40 396.50 22.20" fill="none" stroke="#ee7070" stroke-width="0.7"/>
<rect x="394.80" y="17.60" width="1.5" height="2.8" fill="#b89080"/>
<line x1="371.2" y1="27.8" x2="403.1" y2="27.8" stroke="#4472c4" stroke-width="1.8"/>
<line x1="377.9" y1="29.8" x2="377.9" y2="52.5" stroke="#8fb0e8" stroke-width="0.7"/>
<path d="M377.9 29.3L376.9 31.3L378.9 31.3Z" fill="#4472c4"/>
<path d="M377.9 53.0L376.9 51.0L378.9 51.0Z" fill="#4472c4"/>
<rect x="345.7" y="49.4" width="23.30" height="9.60" fill="#ee7a2a" rx="0.8"/>
<text x="357.35" y="53.10" font-size="3.0" text-anchor="middle" fill="#fff" >Langmuir</text>
<text x="357.35" y="57.00" font-size="3.0" text-anchor="middle" fill="#fff" >probe</text>
<line x1="369.0" y1="54.0" x2="381.0" y2="54.0" stroke="#222" stroke-width="1"/>
<text x="380.00" y="49.80" font-size="8.85" text-anchor="start" fill="#111" stroke="#111" stroke-width="0.12">14 cm</text>
<text transform="translate(11.6,117.8) rotate(-90)" font-size="11.1" text-anchor="middle" fill="#111" stroke="#111" stroke-width="0.2">Plasma density (10<tspan font-size="6.6" dy="-4.2">10</tspan><tspan dy="4.2"> cm</tspan><tspan font-size="6.6" dy="-4.2">-3</tspan><tspan dy="4.2">)</tspan></text>
<text transform="translate(320.0,118.6) rotate(-90)" font-size="11.1" text-anchor="middle" fill="#111" stroke="#111" stroke-width="0.2">Plasma density (10<tspan font-size="6.7" dy="-4.3">10</tspan><tspan dy="4.3"> cm</tspan><tspan font-size="6.7" dy="-4.3">-3</tspan><tspan dy="4.3">)</tspan></text>
</svg></body></html>
